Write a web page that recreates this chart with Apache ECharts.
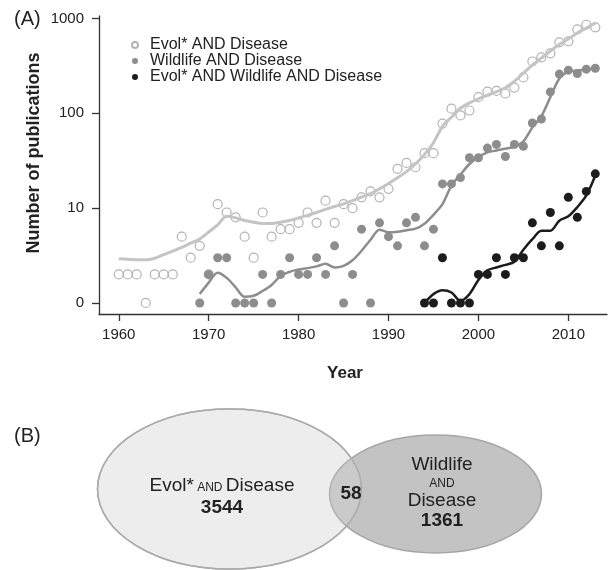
<!DOCTYPE html>
<html>
<head>
<meta charset="utf-8">
<script src="https://cdn.jsdelivr.net/npm/echarts@6/dist/echarts.min.js"></script>
<style>
html,body{margin:0;padding:0;background:#fff;}
#chart{width:608px;height:570px;}
</style>
</head>
<body>
<div id="chart"></div>
<script>
// ---- data ----
const seriesNames = ['Evol* AND Disease', 'Wildlife AND Disease', 'Evol* AND Wildlife AND Disease'];

const evolStart = 1960;
const evolCounts = [1,1,1,0,1,1,1,4,2,3,
  1,10,8,7,4,2,8,4,5,5,
  6,8,6,11,6,10,9,12,14,12,
  15,25,29,26,37,37,77,111,94,106,
  147,168,171,161,186,238,351,388,428,560,
  573,768,858,806];
const evolSmooth = [1.92,1.89,1.85,1.85,1.96,2.24,2.53,2.86,3.27,3.72,
  4.6,5.66,7.2,6.9,6.4,6.1,5.9,5.9,6.1,6.4,
  6.9,7.4,8.0,8.7,9.4,10.1,11.0,12.1,13.2,15,
  17.2,19.9,23.3,28.2,35.8,48,72,90,112,128,
  141,154,168,185,217,264,321,381,452,530,
  606,702,792,895];

const wildStart = 1969;
const wildCounts = [0,1,2,2,0,0,0,1,0,1,
  2,1,1,2,1,3,0,1,5,0,
  6,4,3,6,7,3,5,17,17,20,
  33,33,42,46,34,46,44,78,86,167,
  258,284,262,291,298];
const wildSmooth = [0.24,0.64,1.08,0.84,0.46,0.16,0.19,0.34,0.55,0.93,
  1.13,1.26,1.33,1.43,1.59,1.36,1.46,1.82,2.55,3.64,
  4.92,4.57,4.64,4.85,5.07,5.85,7.5,10.0,16.3,21.6,
  28.2,33.7,37.7,39.6,41.3,43.4,49.6,70.1,92,147,
  232,274,282,287,296];

const bothStart = 1994;
const bothCounts = [0,0,2,0,0,0,1,1,2,1,2,2,6,3,8,3,12,7,14,22];
const bothSmooth = [0,0.24,0.36,0.29,0.05,0.24,0.75,1.21,1.37,1.52,1.72,2.64,3.7,4.78,4.78,6.38,7.19,9.25,12.6,21.1];

const xTicks = [1960, 1970, 1980, 1990, 2000, 2010];
const yTickValues = [1, 10, 100, 1000];
const yTickLabels = ['0', '10', '100', '1000'];

const vennValues = [3544, 58, 1361];

// ---- build ----
// counts are drawn on a log(count + 1) scale
function toPts(start, arr) { return arr.map((v, i) => [start + i, v + 1]); }

const FONT = '"Liberation Sans", Arial, Helvetica, sans-serif';
const cEvol = '#c4c4c4', cEvolPt = '#b3b3b3', cWild = '#8d8d8d', cBoth = '#1c1c1c';
const axisColor = '#333333';

const chart = echarts.init(document.getElementById('chart'), null, {renderer: 'canvas'});

const centered = {align: 'center', verticalAlign: 'middle', textAlign: 'center', textVerticalAlign: 'middle'};

const option = {
  animation: false,
  backgroundColor: '#ffffff',
  textStyle: {fontFamily: FONT},
  grid: {left: 99, right: 1, top: 16, bottom: 256, containLabel: false},
  legend: {
    orient: 'vertical', left: 126, top: 32, itemGap: 0,
    itemWidth: 6, itemHeight: 6, icon: 'circle',
    textStyle: {fontFamily: FONT, fontSize: 16, lineHeight: 16, color: '#222', padding: [0,0,0,7]},
    data: seriesNames.map(n => ({name: n}))
  },
  xAxis: {
    type: 'value', min: 1957.8, max: 2014.3,
    name: 'Year', nameLocation: 'middle', nameGap: 51,
    nameTextStyle: {fontFamily: FONT, fontSize: 17, fontWeight: 'bold', color: '#222', padding: [0, 16, 0, 0]},
    axisLine: {show: true, onZero: false, lineStyle: {color: axisColor, width: 1.3}},
    axisTick: {show: true, length: 7, customValues: xTicks, lineStyle: {color: axisColor, width: 1.3}},
    axisLabel: {customValues: xTicks, margin: 13, fontSize: 15, color: '#222', fontFamily: FONT,
      formatter: v => String(Math.round(v))},
    splitLine: {show: false}
  },
  yAxis: {
    type: 'log', logBase: 10, min: 0.765, max: 1062,
    axisLine: {show: true, lineStyle: {color: axisColor, width: 1.3}},
    axisTick: {show: true, length: 7, customValues: yTickValues, lineStyle: {color: axisColor, width: 1.3}},
    axisLabel: {
      customValues: yTickValues, margin: 15, fontSize: 15, color: '#222', fontFamily: FONT,
      formatter: v => { const i = yTickValues.findIndex(t => Math.abs(t - v) < 1e-6 * t); return i >= 0 ? yTickLabels[i] : ''; }
    },
    splitLine: {show: false}
  },
  series: [
    {name: seriesNames[0], type: 'scatter', data: toPts(evolStart, evolCounts), symbol: 'circle', symbolSize: 9, z: 3,
      itemStyle: {color: 'rgba(255,255,255,0)', borderColor: cEvolPt, borderWidth: 1.2, opacity: 1}},
    {name: seriesNames[1], type: 'scatter', data: toPts(wildStart, wildCounts), symbol: 'circle', symbolSize: 9, z: 3,
      itemStyle: {color: cWild, opacity: 1}},
    {name: seriesNames[2], type: 'scatter', data: toPts(bothStart, bothCounts), symbol: 'circle', symbolSize: 9, z: 3,
      itemStyle: {color: cBoth, opacity: 1}},
    {name: 'evolSmooth', type: 'line', data: toPts(evolStart, evolSmooth), showSymbol: false, smooth: 0.3, z: 4,
      lineStyle: {color: cEvol, width: 3}, silent: true},
    {name: 'wildSmooth', type: 'line', data: toPts(wildStart, wildSmooth), showSymbol: false, smooth: 0.3, z: 4,
      lineStyle: {color: cWild, width: 2.5}, silent: true},
    {name: 'bothSmooth', type: 'line', data: toPts(bothStart, bothSmooth), showSymbol: false, smooth: 0.3, z: 4,
      lineStyle: {color: cBoth, width: 2.5}, silent: true}
  ],
  graphic: [
    {type: 'text', left: 14, top: 9, style: {text: '(A)', font: '20px ' + FONT, fill: '#222'}},
    {type: 'text', left: 14, top: 426, style: {text: '(B)', font: '20px ' + FONT, fill: '#222'}},
    {type: 'text', x: 34, y: 153, rotation: Math.PI / 2,
      style: Object.assign({text: 'Number of publications', font: 'bold 18px ' + FONT, fill: '#222'}, centered)},
    // Venn diagram
    {type: 'ellipse', shape: {cx: 229.5, cy: 489, rx: 132, ry: 80}, style: {fill: '#ebebeb', stroke: '#ababab', lineWidth: 1.5}, z: 10},
    {type: 'ellipse', shape: {cx: 435.5, cy: 494, rx: 106, ry: 59}, style: {fill: '#c3c3c3', stroke: '#a6a6a6', lineWidth: 1.5}, z: 11},
    {type: 'ellipse', shape: {cx: 229.5, cy: 489, rx: 132, ry: 80}, style: {fill: 'rgba(255,255,255,0.12)', stroke: '#ababab', lineWidth: 1.5}, z: 12},
    {type: 'text', x: 222, y: 486, z: 20,
      style: Object.assign({text: '{a|Evol*} {b|AND} {a|Disease}',
        rich: {a: {font: '19px ' + FONT, fill: '#222', color: '#222'}, b: {font: '12px ' + FONT, fill: '#222', color: '#222', padding: [3, 0, 0, 0]}}}, centered)},
    {type: 'text', x: 222, y: 508, z: 20,
      style: Object.assign({text: String(vennValues[0]), font: 'bold 19px ' + FONT, fill: '#222'}, centered)},
    {type: 'text', x: 351, y: 494, z: 20,
      style: Object.assign({text: String(vennValues[1]), font: 'bold 19px ' + FONT, fill: '#222'}, centered)},
    {type: 'text', x: 442, y: 465, z: 20,
      style: Object.assign({text: 'Wildlife', font: '19px ' + FONT, fill: '#222'}, centered)},
    {type: 'text', x: 442, y: 484, z: 20,
      style: Object.assign({text: 'AND', font: '12px ' + FONT, fill: '#222'}, centered)},
    {type: 'text', x: 442, y: 501, z: 20,
      style: Object.assign({text: 'Disease', font: '19px ' + FONT, fill: '#222'}, centered)},
    {type: 'text', x: 442, y: 521, z: 20,
      style: Object.assign({text: String(vennValues[2]), font: 'bold 19px ' + FONT, fill: '#222'}, centered)}
  ]
};
chart.setOption(option);
</script>
</body>
</html>
